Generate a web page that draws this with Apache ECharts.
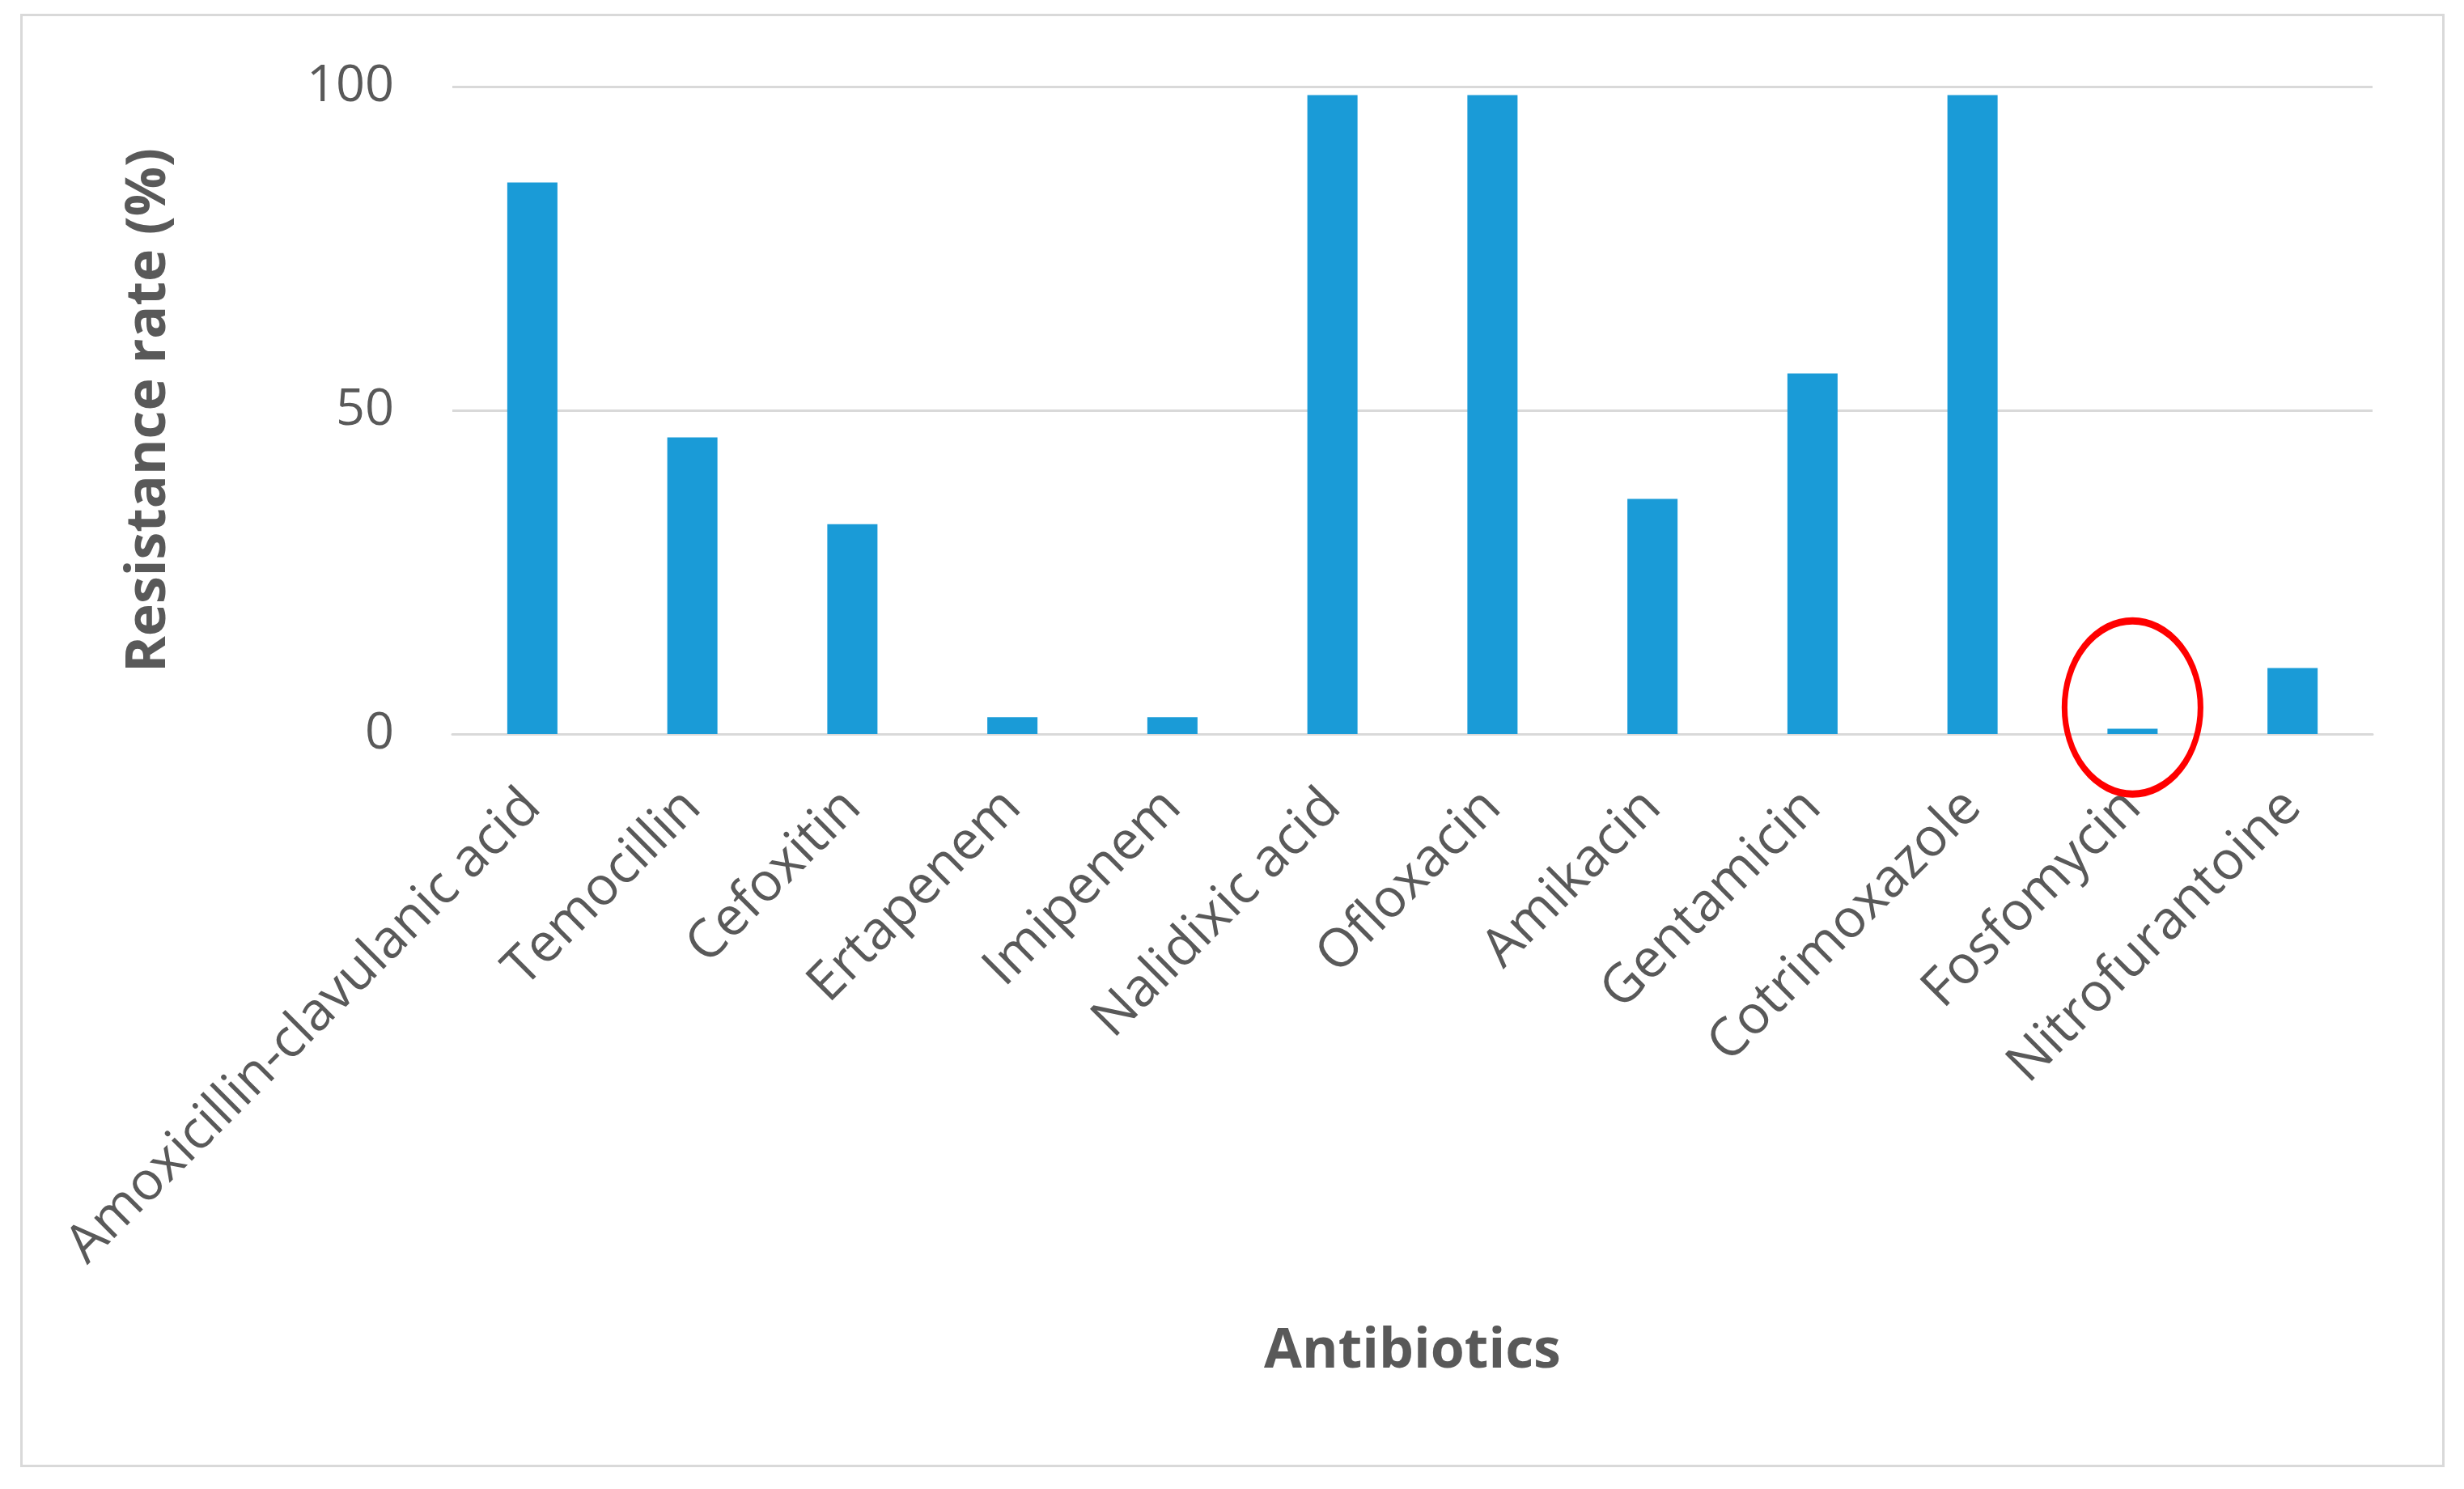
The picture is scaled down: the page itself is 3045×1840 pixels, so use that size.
<!DOCTYPE html>
<html>
<head>
<meta charset="utf-8">
<script src="https://cdn.jsdelivr.net/npm/echarts@6/dist/echarts.min.js"></script>
<style>
  html, body { margin: 0; padding: 0; background: #ffffff; }
  #frame { position: absolute; left: 25px; top: 17px; width: 2996px; height: 1796px; border: 3px solid #d9d9d9; box-sizing: border-box; }
  #chart { position: absolute; left: 0; top: 0; width: 3045px; height: 1840px; }
</style>
</head>
<body>
<div id="frame"></div>
<div id="chart"></div>
<script>
const categories = [
  'Amoxicillin-clavulanic acid', 'Temocillin', 'Cefoxitin', 'Ertapenem', 'Imipenem',
  'Nalidixic acid', 'Ofloxacin', 'Amikacin', 'Gentamicin', 'Cotrimoxazole',
  'Fosfomycin', 'Nitrofurantoine'
];
const resistanceRate = [85.2, 45.8, 32.4, 2.6, 2.6, 98.7, 98.7, 36.3, 55.7, 98.7, 0.8, 10.2];
const yTicks = [0, 50, 100];
const highlightedCategory = 'Fosfomycin';
const highlightCenterValue = 4.1;

const textColor = '#595959';
const font = '"Open Sans", "Noto Sans", sans-serif';

const chart = echarts.init(document.getElementById('chart'));
chart.setOption({
  animation: false,
  backgroundColor: 'transparent',
  grid: { left: 559, right: 113, top: 107, bottom: 933, containLabel: false },
  xAxis: {
    type: 'category',
    data: categories,
    name: 'Antibiotics',
    nameLocation: 'middle',
    nameGap: 730,
    nameTextStyle: { color: textColor, fontSize: 68, fontWeight: 'bold', fontFamily: font },
    axisLine: { show: true, lineStyle: { color: '#d9d9d9', width: 3 } },
    axisTick: { show: false },
    axisLabel: { rotate: 45, color: textColor, fontSize: 66, fontFamily: font, margin: 80, interval: 0 }
  },
  yAxis: {
    type: 'value',
    min: yTicks[0],
    max: yTicks[yTicks.length - 1],
    interval: yTicks[1] - yTicks[0],
    name: 'Resistance rate (%)',
    nameLocation: 'middle',
    nameRotate: 90,
    nameGap: 340,
    nameTextStyle: { color: textColor, fontSize: 68, fontWeight: 'bold', fontFamily: font },
    axisLine: { show: false },
    axisTick: { show: false },
    axisLabel: { color: textColor, fontSize: 63, fontFamily: font, margin: 72 },
    splitLine: { show: true, lineStyle: { color: '#d9d9d9', width: 3 } }
  },
  series: [{
    type: 'bar',
    data: resistanceRate,
    barWidth: 62,
    itemStyle: { color: '#1a9bd7' },
    markPoint: {
      silent: true,
      data: [{
        coord: [highlightedCategory, highlightCenterValue],
        symbol: 'circle',
        symbolSize: [168, 214],
        itemStyle: { color: 'rgba(0,0,0,0)', borderColor: '#ff0000', borderWidth: 8 },
        label: { show: false }
      }]
    }
  }]
});
</script>
</body>
</html>
